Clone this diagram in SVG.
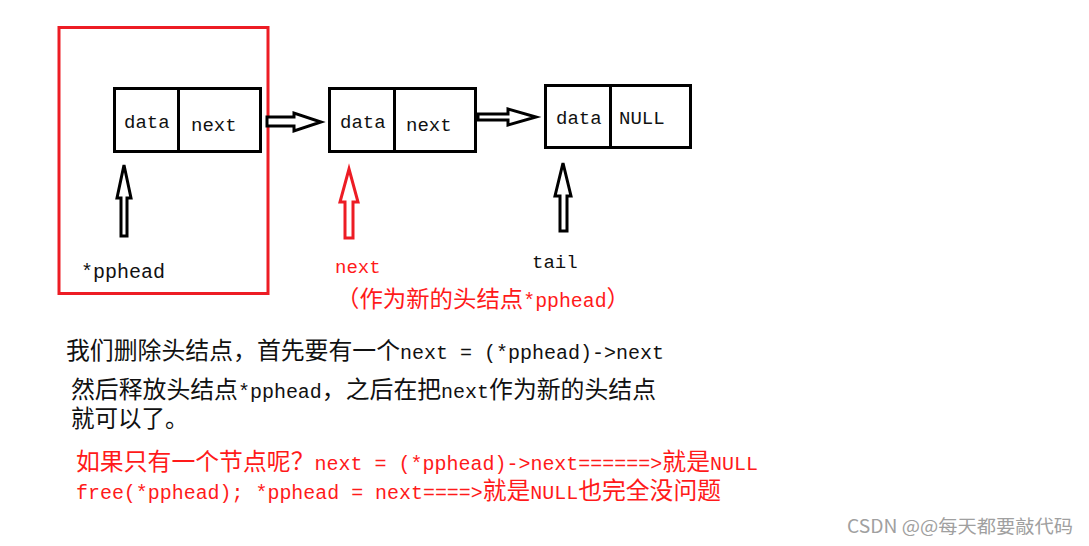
<svg xmlns="http://www.w3.org/2000/svg" width="1089" height="546" viewBox="0 0 1089 546">
<style>
.box{fill:none;stroke:#000;stroke-width:3}
.frame{fill:none;stroke:#ed1c24;stroke-width:3}
.arr{fill:#fff;stroke:#000;stroke-width:3;stroke-linejoin:miter}
.arr-red{fill:#fff;stroke:#ed1c24;stroke-width:3;stroke-linejoin:miter}
.lbl{font-family:"Liberation Mono","Courier New",monospace;font-size:19px;fill:#111}
.cjk{font-family:"Noto Sans CJK SC",sans-serif;font-size:23px}
.t24{font-family:"Noto Sans CJK SC",sans-serif;font-size:23.5px;fill:#111}
.lat{font-family:"Liberation Mono",monospace;font-size:19.7px}
.red{fill:#ff1a1a}
.wm{font-family:"Noto Sans CJK SC",sans-serif;font-size:18px;fill:#a0a0a0}
</style>
<rect width="1089" height="546" fill="#fff"/>

<g id="head-frame">
<rect class="frame" x="59" y="27.5" width="209" height="266"/>
</g>

<g id="node1">
<rect class="box" x="114.5" y="88.5" width="146" height="63"/>
<line class="box" x1="178.5" y1="88.5" x2="178.5" y2="151.5"/>
<text class="lbl" x="124" y="128">data</text>
<text class="lbl" x="191" y="131">next</text>
</g>

<g id="node2">
<rect class="box" x="329.5" y="88.5" width="146" height="63"/>
<line class="box" x1="394.5" y1="88.5" x2="394.5" y2="151.5"/>
<text class="lbl" x="340" y="128">data</text>
<text class="lbl" x="406" y="131">next</text>
</g>

<g id="node3">
<rect class="box" x="545.5" y="85.5" width="145" height="62"/>
<line class="box" x1="610.5" y1="85.5" x2="610.5" y2="147.5"/>
<text class="lbl" x="556" y="124">data</text>
<text class="lbl" x="619" y="124">NULL</text>
</g>

<g id="connectors">
<polygon class="arr" points="267,117 294,117 294,113 321,122 294,131 294,126 267,126"/>
<polygon class="arr" points="478,114 508,114 508,109 536,117 508,125 508,120 478,120"/>
<polygon class="arr" points="124,165 131,198 127,198 127,236 121,236 121,198 117,198"/>
<polygon class="arr-red" points="349,169 358,202 353,202 353,238 345,238 345,202 340,202"/>
<polygon class="arr" points="563,163 571,196 567,196 567,231 560,231 560,196 555,196"/>
</g>

<g id="label-pphead">
<text class="lbl" x="81" y="278" style="font-size:20px">*pphead</text>
</g>
<g id="label-next">
<text class="lbl red" x="335" y="273">next</text>
<text class="cjk red" x="336" y="307" textLength="294" lengthAdjust="spacingAndGlyphs">（作为新的头结点<tspan class="lat" style="font-size:19.5px">*pphead</tspan>）</text>
</g>
<g id="label-tail">
<text class="lbl" x="532" y="268">tail</text>
</g>

<g id="notes">
<text class="t24" x="66" y="359" textLength="598" lengthAdjust="spacingAndGlyphs">我们删除头结点，首先要有一个<tspan class="lat">next = (*pphead)-&gt;next</tspan></text>
<text class="t24" x="71" y="398" textLength="585" lengthAdjust="spacingAndGlyphs">然后释放头结点<tspan class="lat">*pphead</tspan>，之后在把<tspan class="lat">next</tspan>作为新的头结点</text>
<text class="t24" x="71" y="427">就可以了。</text>
<text class="t24 red" x="76" y="470" textLength="682" lengthAdjust="spacingAndGlyphs">如果只有一个节点呢？<tspan class="lat">next = (*pphead)-&gt;next======&gt;</tspan>就是<tspan class="lat">NULL</tspan></text>
<text class="t24 red" x="76" y="499" textLength="645" lengthAdjust="spacingAndGlyphs"><tspan class="lat">free(*pphead); *pphead = next====&gt;</tspan>就是<tspan class="lat">NULL</tspan>也完全没问题</text>
</g>

<g id="watermark">
<text class="wm" x="847" y="533" textLength="226" lengthAdjust="spacingAndGlyphs">CSDN @@每天都要敲代码</text>
</g>
</svg>
